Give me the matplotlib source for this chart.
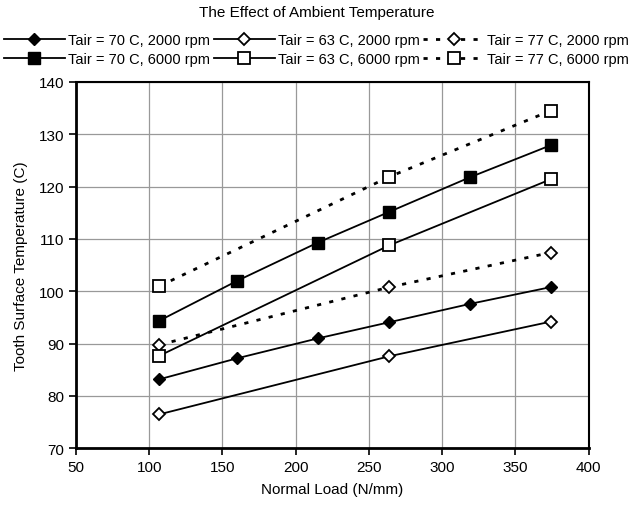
import matplotlib
matplotlib.use('Agg')
import matplotlib.pyplot as plt

plt.rcParams['font.family'] = ['Liberation Sans', 'DejaVu Sans']

# data
load_full = [107, 160, 215, 264, 319, 374]
load_part = [107, 264, 374]

t70_2000 = [83.2, 87.2, 91.0, 94.1, 97.6, 100.8]
t63_2000 = [76.5, 87.6, 94.2]
t77_2000 = [89.8, 100.8, 107.4]
t70_6000 = [94.4, 102.0, 109.3, 115.2, 121.8, 127.9]
t63_6000 = [87.7, 108.8, 121.4]
t77_6000 = [101.0, 121.9, 134.5]

fig = plt.figure(figsize=(6.33, 5.06), dpi=100)
ax = fig.add_axes([0.120, 0.112, 0.810, 0.724])

dot = (0, (1.5, 3))
h1, = ax.plot(load_full, t70_2000, color='black', lw=1.3, marker='D', ms=6.5,
              mfc='black', mec='black', label='Tair = 70 C, 2000 rpm')
h2, = ax.plot(load_part, t63_2000, color='black', lw=1.3, marker='D', ms=6.5,
              mfc='white', mec='black', mew=1.3, label='Tair = 63 C, 2000 rpm')
h3, = ax.plot(load_part, t77_2000, color='black', lw=2, ls=dot, marker='D', ms=6.5,
              mfc='white', mec='black', mew=1.3, label='Tair = 77 C, 2000 rpm')
h4, = ax.plot(load_full, t70_6000, color='black', lw=1.3, marker='s', ms=9,
              mfc='black', mec='black', label='Tair = 70 C, 6000 rpm')
h5, = ax.plot(load_part, t63_6000, color='black', lw=1.3, marker='s', ms=9,
              mfc='white', mec='black', mew=1.3, label='Tair = 63 C, 6000 rpm')
h6, = ax.plot(load_part, t77_6000, color='black', lw=2, ls=dot, marker='s', ms=9,
              mfc='white', mec='black', mew=1.3, label='Tair = 77 C, 6000 rpm')

ax.set_xlim(50, 400)
ax.set_ylim(70, 140)
ax.set_xticks(range(50, 401, 50))
ax.set_yticks(range(70, 141, 10))
ax.grid(True, color='#999999', lw=0.9)
ax.set_axisbelow(True)
ax.tick_params(direction='out', length=5, width=1.2, labelsize=11)
for side in ['left', 'bottom']:
    ax.spines[side].set_linewidth(2)
for side in ['top', 'right']:
    ax.spines[side].set_linewidth(1.5)

ax.set_xlabel('Normal Load (N/mm)', fontsize=11, labelpad=6)
ax.set_ylabel('Tooth Surface Temperature (C)', fontsize=11, labelpad=8)

fig.text(0.5, 0.975, 'The Effect of Ambient Temperature', ha='center', va='center',
         fontsize=11)
fig.legend(handles=[h1, h4, h2, h5, h3, h6], ncol=3, loc='center',
           bbox_to_anchor=(0.5, 0.9), frameon=False, fontsize=10.5,
           handlelength=4.2, handletextpad=0.2, columnspacing=0.25,
           labelspacing=0.3, borderpad=0)

fig.savefig('out.png', dpi=100)
